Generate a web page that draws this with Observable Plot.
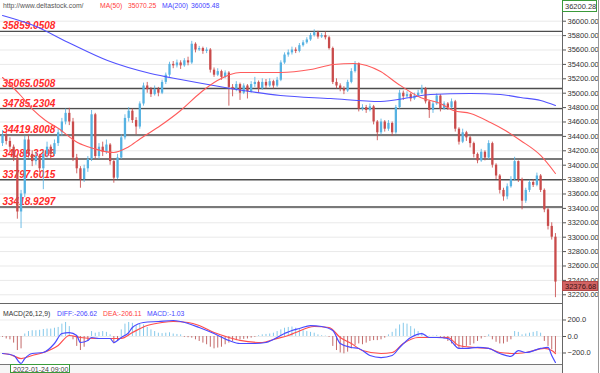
<!DOCTYPE html>
<html><head><meta charset="utf-8">
<script src="https://cdn.jsdelivr.net/npm/d3@7"></script>
<script src="https://cdn.jsdelivr.net/npm/@observablehq/plot@0.6"></script>
<style>
body{margin:0;background:#fff;font-family:"Liberation Sans",Arial,sans-serif;}
#wrap{position:relative;width:600px;height:373px;overflow:hidden;background:#fff;}
.abs{position:absolute;white-space:nowrap;line-height:1;}
#wrap svg{position:absolute;left:0;}
</style></head><body><div id="wrap"></div>
<script>
// ---- price candles (hourly) ----
const opens = [34300,34420,34330,34250,34100,33350,33600,34350,34150,34050,
34120,33950,34150,34250,34150,34300,34450,34600,34720,34600,
34100,33950,33800,33950,34080,34700,34120,34250,34180,34280,
34050,33820,34100,34380,34650,34750,34620,34530,34850,35100,
35050,34980,35050,35000,35150,35250,35400,35380,35420,35380,
35450,35420,35680,35600,35620,35580,35600,35320,35250,35300,
35220,35280,35080,35050,35120,35000,35100,35020,35120,35150,
35060,35150,35100,35160,35100,35180,35420,35530,35560,35600,
35580,35660,35700,35740,35800,35840,35780,35800,35770,35620,
35150,35100,35060,35030,35150,35300,35410,34780,34800,34760,
34810,34600,34450,34600,34500,34580,34450,34800,35000,34950,
34980,34920,34960,35000,35060,34880,34760,34850,34960,34780,
34850,34800,34880,34500,34320,34450,34380,34300,34150,34060,
34180,34100,34300,34000,33850,33650,33560,33700,33800,34050,
33800,33500,33650,33760,33720,33850,33650,33380,33150,33000];
const closes = [34420,34330,34250,34100,33350,33600,34350,34150,34050,34120,
33950,34150,34250,34150,34300,34450,34600,34720,34600,34100,
33950,33800,33950,34080,34700,34120,34250,34180,34280,34050,
33820,34100,34380,34650,34750,34620,34530,34850,35100,35050,
34980,35050,35000,35150,35250,35400,35380,35420,35380,35450,
35420,35680,35600,35620,35580,35600,35320,35250,35300,35220,
35280,35080,35050,35120,35000,35100,35020,35120,35150,35060,
35150,35100,35160,35100,35180,35420,35530,35560,35600,35580,
35660,35700,35740,35800,35840,35780,35800,35770,35620,35150,
35100,35060,35030,35150,35300,35410,34780,34800,34760,34810,
34600,34450,34600,34500,34580,34450,34800,35000,34950,34980,
34920,34960,35000,35060,34880,34760,34850,34960,34780,34850,
34800,34880,34500,34320,34450,34380,34300,34150,34060,34180,
34100,34300,34000,33850,33650,33560,33700,33800,34050,33800,
33500,33650,33760,33720,33850,33650,33380,33150,33000,32376.68];
const highs = [34480,34450,34380,34280,34150,33650,34400,34420,34200,34180,
34150,34200,34320,34280,34350,34500,34650,34780,34790,34650,
34150,33980,34000,34120,34760,34720,34300,34320,34350,34300,
34080,34150,34420,34700,34800,34780,34660,34880,35140,35150,
35080,35100,35080,35180,35280,35430,35440,35460,35450,35480,
35500,35720,35700,35650,35640,35630,35620,35350,35340,35320,
35310,35300,35120,35160,35140,35130,35120,35160,35220,35170,
35200,35190,35200,35180,35220,35450,35560,35600,35640,35630,
35690,35730,35770,35830,35880,35860,35830,35850,35790,35640,
35200,35130,35090,35180,35340,35440,35420,34840,34830,34850,
34830,34620,34640,34620,34620,34600,34830,35040,35030,35020,
35000,35000,35040,35110,35080,34900,34880,34990,34980,34880,
34870,34920,34900,34520,34500,34470,34400,34320,34170,34220,
34200,34340,34320,34020,33870,33680,33740,33840,34110,34060,
33820,33680,33790,33800,33890,33870,33670,33400,33200,33050];
const lows = [34260,34280,34180,34050,33250,33120,33550,34100,33980,34000,
33900,33660,34100,34080,34120,34260,34400,34560,34550,34050,
33880,33680,33760,33900,34050,34080,34080,34120,34150,34000,
33750,33800,34080,34350,34600,34580,34420,34500,34820,35000,
34940,34960,34950,34980,35120,35220,35340,35350,35330,35360,
35380,35400,35560,35580,35540,35550,35280,35220,35230,35180,
35200,34820,34950,35020,34900,34980,34920,35000,35080,35000,
35040,35060,35080,35060,35080,35160,35400,35500,35530,35550,
35560,35640,35680,35720,35780,35750,35760,35740,35600,35120,
35060,35020,34980,35010,35130,35280,34740,34750,34720,34740,
34560,34340,34420,34460,34470,34400,34430,34780,34900,34930,
34880,34900,34940,34980,34850,34650,34720,34830,34740,34760,
34760,34780,34460,34280,34300,34330,34240,34100,34020,34040,
34060,34080,33960,33800,33600,33500,33520,33680,33780,33760,
33380,33470,33620,33690,33700,33620,33340,33100,32960,32160];

// ---- support / resistance levels ----
const levels = [35859.0508, 35065.0508, 34785.2304, 34419.8008, 34086.3203, 33797.6015, 33418.9297];
const levelLabels = ["35859.0508","35065.0508","34785.2304","34419.8008","34086.3203","33797.6015","33418.9297"];

// ---- price axis ticks ----
const priceTicks = [32200,32400,32600,32800,33000,33200,33400,33600,33800,34000,34200,34400,34600,34800,35000,35200,35400,35600,35800,36000];

// ---- moving averages (bar index, value) ----
const ma50Idx = [0,4.9,8.4,11.6,15.1,20.2,24.5,29.9,33.7,37.2,42.6,48,53.4,57.9,64.1,74.9,83,89.2,94.6,101.9,106.4,112.6,118,121.5,126.1,131.5,135.5,139.6,145,149];
const ma50Val = [35218,34968,34760,34621,34510,34315,34232,34176,34246,34371,34551,34760,35010,35176,35288,35288,35329,35399,35413,35301,35135,34940,34857,34760,34718,34593,34482,34343,34135,33885];
const ma200Idx = [0,8.4,18.3,28.3,39.9,48,56.9,74.9,88.4,101.9,109.9,115.3,126.1,134.2,139.6,145,149];
const ma200Val = [36079,35940,35690,35454,35274,35190,35107,34968,34926,34885,34940,34982,34996,34982,34940,34899,34829];

// ---- MACD ----
const macdHist = [-10,-30,-40,-80,-170,-150,30,60,70,70,
75,85,90,90,100,110,150,170,120,-40,
-120,-170,-130,-60,60,40,50,60,50,20,
-90,-60,80,150,170,160,130,150,140,110,
80,60,40,35,40,45,30,25,20,-10,
-15,-20,-40,-60,-80,-100,-130,-150,-140,-130,
-100,-80,-60,-50,-40,-35,-30,-20,-10,10,
20,25,30,40,60,80,100,110,115,100,
90,70,60,50,40,20,10,5,-10,-120,
-170,-200,-210,-190,-150,-110,-90,-100,-80,-60,
-50,-50,-40,-20,20,50,90,140,160,150,
120,90,60,40,15,5,5,10,-10,-30,
-60,-90,-120,-150,-140,-120,-110,-90,-60,-30,
-10,20,-40,-70,-90,-90,-70,-40,60,50,
20,30,40,50,60,40,-60,-120,-160,-200];
const diffIdx = [0,3,5,6,8,11,14,16,18,20,21,23,24,26,29,30,32,34,35,38,42,46,50,53,57,61,64,68,71,76,78,80,83,86,89,91,94,96,99,102,105,107,110,113,115,117,120,123,125,128,131,134,137,139,141,145,147,148,149];
const diffVal = [-206,-230,-327,-267,-206,-194,-85,36,48,12,-73,-48,-12,-24,-24,-73,-12,48,109,170,182,194,158,109,36,-48,-85,-85,-73,36,73,97,133,121,73,-85,-133,-145,-230,-255,-230,-133,-12,36,-12,-12,-24,-145,-145,-133,-145,-206,-242,-170,-194,-145,-133,-230,-315];
const deaIdx = [0,2,5,8,11,15,18,21,25,29,32,35,39,43,46,50,53,57,61,64,70,73,77,79,84,88,91,94,97,102,105,108,112,115,120,123,127,131,134,138,141,146,148,149];
const deaVal = [-206,-218,-267,-230,-194,-109,12,-12,-24,-24,-24,48,133,170,182,170,133,48,-12,-48,-73,-36,12,48,121,109,-12,-85,-170,-206,-194,-85,-12,-12,-12,-109,-133,-145,-194,-206,-194,-145,-170,-206];
const macdTicks = [-200, 0, 200];

// ---- build tables ----
const UP = "#56b2e2", DOWN = "#c94b4b";
const candles = opens.map((o, i) => ({i, o, c: closes[i], h: highs[i], l: lows[i], col: closes[i] >= o ? UP : DOWN}));
const ma50 = ma50Idx.map((i, k) => ({i, v: ma50Val[k]}));
const ma200 = ma200Idx.map((i, k) => ({i, v: ma200Val[k]}));
const hist = macdHist.map((v, i) => ({i, v, col: v >= 0 ? "#86c9ea" : "#c46a6a"}));
const diff = diffIdx.map((i, k) => ({i, v: diffVal[k]}));
const dea = deaIdx.map((i, k) => ({i, v: deaVal[k]}));

const xDomain = [-0.54, 150.9];
const font = '"Liberation Sans", Arial, sans-serif';
const wrap = document.getElementById("wrap");

const main = Plot.plot({
  width: 600, height: 303,
  marginTop: 0, marginBottom: 0, marginLeft: 0, marginRight: 38,
  style: {fontFamily: font, fontSize: "7.5px", color: "#333", background: "transparent", overflow: "visible"},
  x: {domain: xDomain, axis: null},
  y: {domain: [32079, 36287.5]},
  color: {type: "identity"},
  marks: [
    Plot.ruleY(priceTicks, {stroke: "#e9e9e9"}),
    Plot.ruleY(levels, {stroke: "#4d4d4d", strokeWidth: 1.4}),
    Plot.text(levels, {y: d => d, text: (d, k) => levelLabels[k], frameAnchor: "left", textAnchor: "start", lineAnchor: "bottom", dx: 2, dy: -2, fill: "#ff2a2a", fontWeight: "bold", fontStyle: "italic", fontSize: 10}),
    Plot.ruleX(candles, {x: "i", y1: "l", y2: "h", stroke: "col", strokeWidth: 1, strokeOpacity: 0.85}),
    Plot.ruleX(candles, {x: "i", y1: "o", y2: "c", stroke: "col", strokeWidth: 2.3}),
    Plot.line(ma200, {x: "i", y: "v", stroke: "#5252ff", strokeWidth: 1.1, curve: "monotone-x"}),
    Plot.line(ma50, {x: "i", y: "v", stroke: "#ff5c5c", strokeWidth: 1.1, curve: "monotone-x"}),
    Plot.axisY(priceTicks, {anchor: "right", label: null, tickFormat: d3.format(".2f"), tickSize: 3, tickPadding: 2, stroke: "#555", fill: "#333"})
  ]
});
main.style.top = "0px";
wrap.appendChild(main);

const macd = Plot.plot({
  width: 600, height: 61,
  marginTop: 0, marginBottom: 0, marginLeft: 0, marginRight: 38,
  style: {fontFamily: font, fontSize: "7.5px", color: "#333", background: "transparent", overflow: "visible"},
  x: {domain: xDomain, axis: null},
  y: {domain: [-339.4, 400]},
  color: {type: "identity"},
  marks: [
    Plot.ruleY(macdTicks, {stroke: "#ececec"}),
    Plot.ruleX(hist, {x: "i", y1: 0, y2: "v", stroke: "col", strokeWidth: 1}),
    Plot.line(dea, {x: "i", y: "v", stroke: "#ff4d4d", strokeWidth: 1.2, curve: "monotone-x"}),
    Plot.line(diff, {x: "i", y: "v", stroke: "#4a4aff", strokeWidth: 1.2, curve: "monotone-x"}),
    Plot.axisY(macdTicks, {anchor: "right", label: null, tickFormat: d3.format(".1f"), tickSize: 3, tickPadding: 2, stroke: "#555", fill: "#333"})
  ]
});
macd.style.top = "303px";
wrap.appendChild(macd);

// ---- frame lines & overlays ----
function box(css, text) {
  const d = document.createElement("div");
  d.className = "abs";
  d.style.cssText += css;
  if (text != null) d.textContent = text;
  wrap.appendChild(d);
  return d;
}
box("left:562px;top:0;width:1px;height:373px;background:#666;");
box("left:598px;top:0;width:1px;height:373px;background:#999;");
box("left:0;top:303px;width:562px;height:1px;background:#666;");
box("left:0;top:364px;width:562px;height:1px;background:#777;");
box("left:0;top:365px;width:562px;height:8px;background:#f6f6f6;");

// top legend
const lg = "top:3px;font-size:6.8px;";
box(lg + "left:3px;color:#555;", "http://www.deltastock.com/");
box(lg + "left:100px;color:#ff4040;", "MA(50)");
box(lg + "left:128px;color:#ff4040;", "35070.25");
box(lg + "left:162px;color:#4646ff;", "MA(200)");
box(lg + "left:191px;color:#4646ff;", "36005.48");

// MACD legend
const ml = "top:311px;font-size:6.8px;";
box(ml + "left:3px;color:#333;", "MACD(26,12,9)");
box(ml + "left:57px;color:#4646ff;", "DIFF:-206.62");
box(ml + "left:103px;color:#ff4040;", "DEA:-206.11");
box(ml + "left:147px;color:#4646ff;", "MACD:-1.03");

// axis price tags positioned through the y scale
const ys = main.scale("y");
const lastClose = closes[closes.length - 1];
const yTop = ys.apply(36200.28);
box(`left:562px;top:${Math.max(0, yTop - 6.5)}px;width:35px;height:12px;border:1px solid #3a9a3a;background:#fff;font-size:7.5px;color:#333;padding:2px 0 0 2px;box-sizing:border-box;`, "36200.28");
const yLast = ys.apply(lastClose);
box(`left:562px;top:${yLast - 1}px;width:36px;height:10px;background:#d26464;border:1px solid #b24848;font-size:7.5px;color:#3a1515;padding:1px 0 0 2px;box-sizing:border-box;`, d3.format(".2f")(lastClose));

// date tag
box("left:10px;top:364px;width:60px;height:9px;border:1px solid #3a9a3a;background:#fff;font-size:7px;color:#444;padding:1px 0 0 2px;box-sizing:border-box;", "2022-01-24 09:00");
</script>
</body></html>
